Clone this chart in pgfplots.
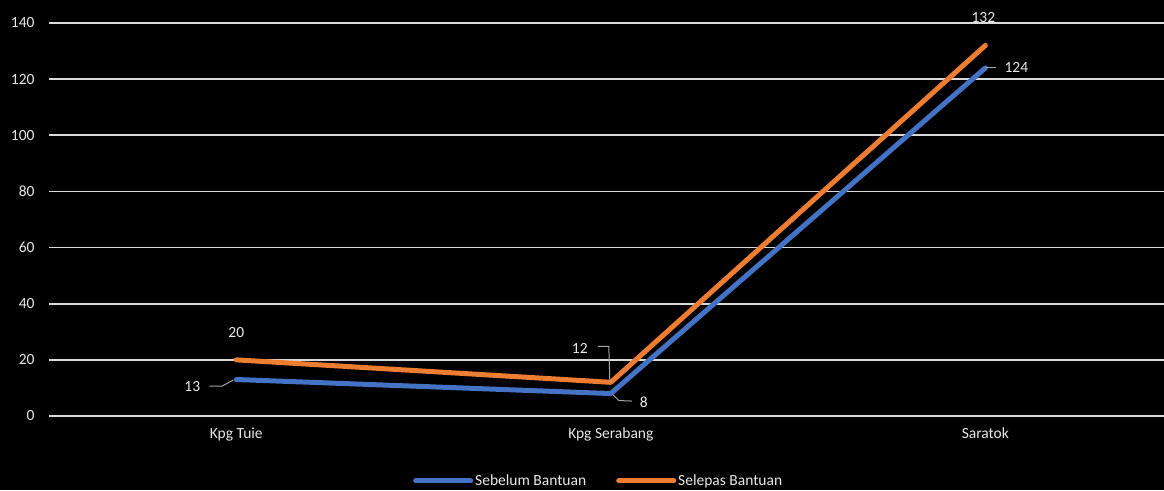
\documentclass[border=0pt]{standalone}
\usepackage{pgfplots}
\pgfplotsset{compat=1.18}
\usepackage{fontspec}
\setmainfont{Carlito}
\definecolor{sblue}{HTML}{4472C4}
\definecolor{sorange}{HTML}{ED7D31}
\definecolor{gridc}{HTML}{D9D9D9}
\definecolor{leadc}{HTML}{A6A6A6}
\definecolor{txt}{HTML}{E8E8E8}
\begin{document}
\begin{tikzpicture}[x=1pt,y=1pt]
\fill[black] (0,0) rectangle (1164,490);
\useasboundingbox (0,0) rectangle (1164,490);
\begin{axis}[
  at={(49pt,74pt)}, anchor=south west,
  width=1115pt, height=393pt, scale only axis,
  xmin=-0.5, xmax=2.477, ymin=0, ymax=140,
  ytick={0,20,...,140}, xtick={0,1,2},
  xticklabels={Kpg Tuie, Kpg Serabang, Saratok},
  axis line style={draw=none}, major tick length=0pt,
  ymajorgrids, grid style={gridc, line width=1.6pt},
  ticklabel style={font=\fontsize{15.5}{18}\selectfont, text=txt},
  yticklabel style={xshift=-11pt},
  xticklabel style={yshift=-8pt},
  /pgf/number format/assume math mode=true,
  clip=false,
  legend columns=2,
  legend style={at={(0.493,-0.165)}, anchor=center, draw=none, fill=none,
    text=txt, font=\fontsize{15.5}{18}\selectfont,
    /tikz/every even column/.append style={column sep=28pt}},
  legend image code/.code={\draw[#1, line width=5pt, line cap=round] (0pt,0pt) -- (55pt,0pt);},
]
\addplot[sblue, line width=5pt, line join=round, line cap=round] coordinates {(0,13) (1,8) (2,124)};
\addlegendentry{Sebelum Bantuan}
\addplot[sorange, line width=5pt, line join=round, line cap=round] coordinates {(0,20) (1,12) (2,132)};
\addlegendentry{Selepas Bantuan}

\begin{scope}[every node/.style={font=\fontsize{15.5}{18}\selectfont, text=txt}]
\node at ([shift={(-44pt,-7pt)}]axis cs:0,13) {13};
\node at ([shift={(0pt,27pt)}]axis cs:0,20) {20};
\node at ([shift={(-31pt,34pt)}]axis cs:1,12) {12};
\node at ([shift={(33pt,-8.5pt)}]axis cs:1,8) {8};
\node at ([shift={(-2pt,27.5pt)}]axis cs:2,132) {132};
\node at ([shift={(31pt,0pt)}]axis cs:2,124) {124};
\end{scope}
\draw[leadc, line width=1pt] ([shift={(-27pt,-6.5pt)}]axis cs:0,13) -- ([shift={(-14pt,-6.5pt)}]axis cs:0,13) -- ([shift={(-3pt,-0.5pt)}]axis cs:0,13);
\draw[leadc, line width=1pt] ([shift={(-13pt,36pt)}]axis cs:1,12) -- ([shift={(-2pt,36pt)}]axis cs:1,12) -- ([shift={(-1pt,1pt)}]axis cs:1,12);
\draw[leadc, line width=1pt] ([shift={(2pt,-1pt)}]axis cs:1,8) -- ([shift={(8pt,-7pt)}]axis cs:1,8) -- ([shift={(21pt,-7.5pt)}]axis cs:1,8);
\draw[leadc, line width=1pt] ([shift={(1pt,0pt)}]axis cs:2,124) -- ([shift={(11pt,0pt)}]axis cs:2,124);
\end{axis}
\end{tikzpicture}
\end{document}
